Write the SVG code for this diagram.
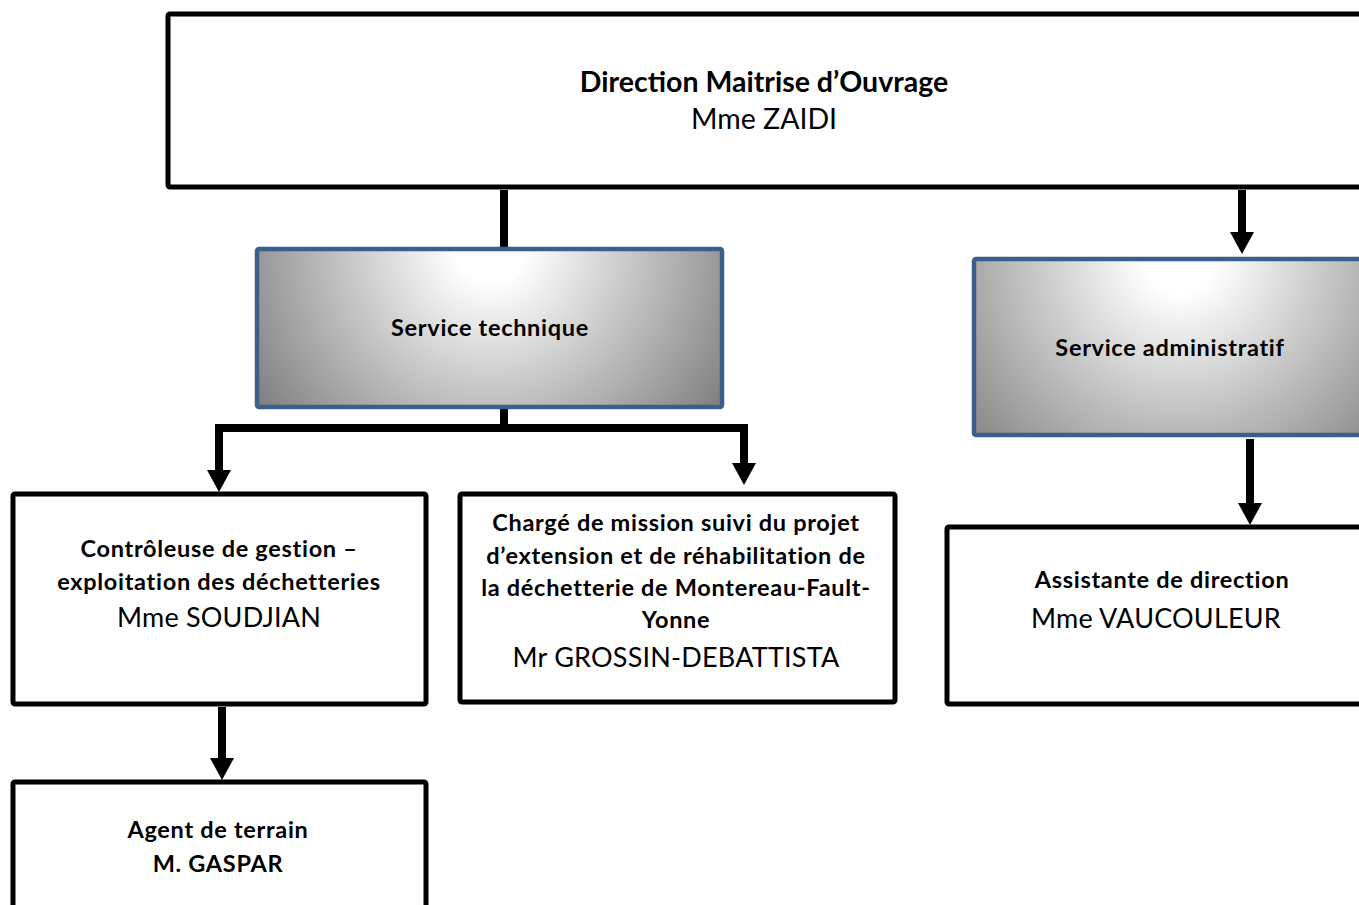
<svg xmlns="http://www.w3.org/2000/svg" width="1359" height="905" viewBox="0 0 1359 905">
<style>
.box{fill:#fff;stroke:#000;stroke-width:5}
.svc{stroke:#3A5F8B;stroke-width:4.5}
.conn{stroke:#000;stroke-width:8;fill:none}
text{font-family:Lato,"Liberation Sans",sans-serif;fill:#000;text-anchor:middle}
.b{font-weight:bold;font-size:23.5px;letter-spacing:0.7px}
.n{font-size:27px;letter-spacing:0.2px}
.tb{font-weight:bold;font-size:28.5px}
.tn{font-size:28.5px}
</style>
<defs>
<radialGradient id="gTech" gradientUnits="userSpaceOnUse" cx="490" cy="247" r="290">
<stop offset="0" stop-color="#ffffff"/>
<stop offset="0.12" stop-color="#ffffff"/>
<stop offset="1" stop-color="#7a7a7a"/>
</radialGradient>
<radialGradient id="gAdm" gradientUnits="userSpaceOnUse" cx="1180" cy="257" r="300">
<stop offset="0" stop-color="#ffffff"/>
<stop offset="0.12" stop-color="#ffffff"/>
<stop offset="1" stop-color="#7a7a7a"/>
</radialGradient>
<marker id="arr" viewBox="0 0 22 24" markerUnits="userSpaceOnUse" markerWidth="22" markerHeight="24" refX="0" refY="12" orient="auto">
<path d="M0,0 L22,12 L0,24 z" fill="#000"/>
</marker>
</defs>
<g id="connectors">
<line class="conn" x1="504" y1="190" x2="504" y2="249"/>
<line class="conn" x1="504" y1="409" x2="504" y2="428"/>
<polyline class="conn" points="219,470 219,428 744,428 744,463"/>
<line class="conn" x1="219" y1="440" x2="219" y2="470" marker-end="url(#arr)"/>
<line class="conn" x1="744" y1="440" x2="744" y2="463" marker-end="url(#arr)"/>
<line class="conn" x1="1242" y1="190" x2="1242" y2="232" marker-end="url(#arr)"/>
<line class="conn" x1="1250" y1="439" x2="1250" y2="503" marker-end="url(#arr)"/>
<line class="conn" x1="222" y1="707" x2="222" y2="758" marker-end="url(#arr)"/>
</g>
<g id="direction">
<rect class="box" x="168" y="14" width="1210" height="173" rx="2"/>
<text class="tb" x="764" y="92">Direction Maitrise d’Ouvrage</text>
<text class="tn" x="764" y="129">Mme ZAIDI</text>
</g>
<g id="service-technique">
<rect class="svc" x="257" y="249" width="465" height="158" rx="2" fill="url(#gTech)"/>
<text class="b" x="490" y="336">Service technique</text>
</g>
<g id="service-administratif">
<rect class="svc" x="974" y="259" width="420" height="176" rx="2" fill="url(#gAdm)"/>
<text class="b" x="1170" y="356">Service administratif</text>
</g>
<g id="controleuse">
<rect class="box" x="13" y="494" width="413" height="210" rx="2"/>
<text class="b" x="219" y="557">Contrôleuse de gestion –</text>
<text class="b" x="219" y="590">exploitation des déchetteries</text>
<text class="n" x="219" y="627">Mme SOUDJIAN</text>
</g>
<g id="charge-mission">
<rect class="box" x="460" y="494" width="435" height="208" rx="2"/>
<text class="b" x="676" y="531">Chargé de mission suivi du projet</text>
<text class="b" x="676" y="564">d’extension et de réhabilitation de</text>
<text class="b" x="676" y="596">la déchetterie de Montereau-Fault-</text>
<text class="b" x="676" y="628">Yonne</text>
<text class="n" x="676" y="667">Mr GROSSIN-DEBATTISTA</text>
</g>
<g id="assistante">
<rect class="box" x="947" y="527" width="440" height="177" rx="2"/>
<text class="b" x="1162" y="588">Assistante de direction</text>
<text class="n" x="1156" y="628">Mme VAUCOULEUR</text>
</g>
<g id="agent">
<rect class="box" x="13" y="782" width="413" height="140" rx="2"/>
<text class="b" x="218" y="838">Agent de terrain</text>
<text class="b" x="218" y="872">M. GASPAR</text>
</g>
</svg>
